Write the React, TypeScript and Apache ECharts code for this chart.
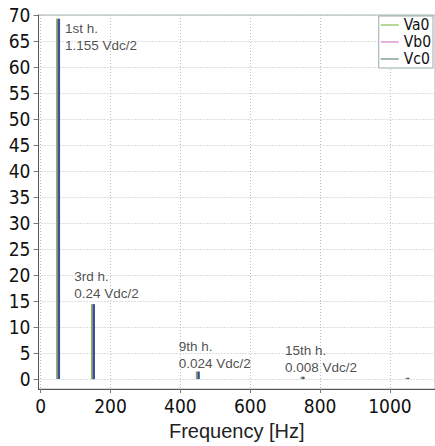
import React, { useEffect, useRef } from "react";
import * as echarts from "echarts";

// Harmonic frequencies (Hz)
const frequencies = [50, 150, 450, 750, 1050];
// Spectrum amplitudes per phase (V)
const va0Values = [69.3, 14.4, 1.45, 0.45, 0.25];
const vb0Values = [69.3, 14.4, 1.45, 0.45, 0.25];
const vc0Values = [69.3, 14.4, 1.45, 0.45, 0.25];

const seriesNames = ["Va0", "Vb0", "Vc0"];
const xTickValues = [0, 200, 400, 600, 800, 1000];
const yTickValues = [0, 5, 10, 15, 20, 25, 30, 35, 40, 45, 50, 55, 60, 65, 70];

// Annotation text anchors [Hz, value] and text
const noteAnchors: [number, number][] = [
  [71, 69.0],
  [98, 21.2],
  [397, 7.8],
  [701, 7.1],
];
const noteTexts = [
  "1st h.\n1.155 Vdc/2",
  "3rd h.\n0.24 Vdc/2",
  "9th h.\n0.024 Vdc/2",
  "15th h.\n0.008 Vdc/2",
];

export default function App() {
  const ref = useRef<HTMLDivElement>(null);
  useEffect(() => {
    document.body.style.margin = "0";
    const chart = echarts.init(ref.current!, undefined, { renderer: "svg" });
    const mk = (vals: number[]) => frequencies.map((f, i) => [f, vals[i]]);
    const barColors = ["#7cbd3c", "#a07a98", "#34509e"];
    const legendColors = ["#b3d89a", "#e2b4e2", "#a4b8b0"];
    const dataSets = [va0Values, vb0Values, vc0Values];
    const gridLine = { show: true, lineStyle: { color: "#bdbdbd", type: [1, 2], width: 1 } };
    chart.setOption({
      animation: false,
      grid: {
        left: 38.5,
        top: 15,
        width: 407,
        height: 376,
        show: true,
        borderColor: "#a6b4b4",
        borderWidth: 1,
        backgroundColor: "transparent",
      },
      legend: {
        orient: "vertical",
        right: 2,
        top: 16,
        padding: [1, 2, 1, 2],
        itemGap: 1,
        itemWidth: 18,
        itemHeight: 2,
        icon: "rect",
        backgroundColor: "#ffffff",
        borderColor: "#9aa",
        borderWidth: 1,
        borderRadius: 0,
        textStyle: {
          fontFamily: "DejaVu Sans Condensed",
          fontSize: 15.5,
          lineHeight: 15.5,
          color: "#111",
        },
        data: seriesNames.map((n, i) => ({ name: n, itemStyle: { color: legendColors[i] } })),
      },
      xAxis: {
        type: "value",
        min: -6,
        max: 1129,
        minInterval: 200,
        maxInterval: 200,
        name: "Frequency [Hz]",
        nameLocation: "middle",
        nameGap: 32,
        nameTextStyle: { fontFamily: "Liberation Sans", fontSize: 20, color: "#222" },
        axisLine: { show: true, onZero: false, lineStyle: { color: "#555", width: 1 } },
        axisTick: {
          show: true,
          length: 4,
          customValues: xTickValues,
          lineStyle: { color: "#777" },
        },
        axisLabel: {
          customValues: xTickValues,
          formatter: (v: number) => String(v),
          fontFamily: "DejaVu Sans Condensed",
          fontSize: 19,
          color: "#111",
          margin: 7,
        },
        splitLine: gridLine,
      },
      yAxis: {
        type: "value",
        min: -1.9,
        max: 70,
        minInterval: 5,
        maxInterval: 5,
        axisLine: { show: true, onZero: false, lineStyle: { color: "#555", width: 1 } },
        axisTick: {
          show: true,
          length: 5,
          customValues: yTickValues,
          lineStyle: { color: "#777" },
        },
        axisLabel: {
          customValues: yTickValues,
          formatter: (v: number) => String(v),
          fontFamily: "DejaVu Sans Condensed",
          fontSize: 19,
          color: "#111",
          margin: 8,
        },
        splitLine: gridLine,
      },
      series: [
        ...seriesNames.map((n, i) => ({
          name: n,
          type: "bar",
          data: mk(dataSets[i]),
          barWidth: 2,
          barGap: "-50%",
          itemStyle: { color: barColors[i] },
        })),
        {
          name: "notes",
          type: "scatter",
          symbolSize: 1,
          itemStyle: { color: "rgba(0,0,0,0)" },
          data: noteAnchors.map((a, i) => ({ value: a, label: { formatter: noteTexts[i] } })),
          label: {
            show: true,
            position: [0, 0],
            align: "left",
            verticalAlign: "top",
            fontFamily: "Liberation Sans",
            fontSize: 13.5,
            lineHeight: 17,
            color: "#222",
          },
          labelLayout: { hideOverlap: false },
          z: 5,
        },
      ],
    });
    return () => chart.dispose();
  }, []);
  return <div ref={ref} style={{ width: 435, height: 446 }} />;
}
